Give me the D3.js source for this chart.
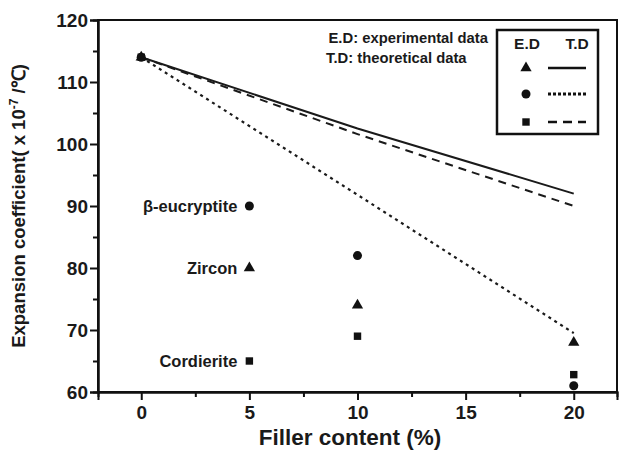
<!DOCTYPE html>
<html>
<head>
<meta charset="utf-8">
<script src="https://cdn.jsdelivr.net/npm/d3@7"></script>
<style>
  body { margin: 0; background: #fff; }
  text { font-family: "Liberation Sans", Arial, sans-serif; font-weight: bold; fill: #1a1a1a; }
</style>
</head>
<body>
<svg id="chart" width="621" height="450"></svg>
<script>
// Filler content (%) for each measured sample
const fillerX = [0, 5, 10, 20];

// Experimental data (E.D)
const zirconExp = [114, 80, 74, 68];
const eucryptiteExp = [114, 90, 82, 61];
const cordieriteExp = [114, 65, 69, 62.8];

// Theoretical data (T.D)
const theoryX = [0, 10, 20];
const zirconTheory = [114, 102.5, 92];
const eucryptiteTheory = [114, 91.8, 69.5];
const cordieriteTheory = [114, 101.6, 90];

const xTicks = [0, 5, 10, 15, 20];
const yTicks = [60, 70, 80, 90, 100, 110, 120];

const svg = d3.select("#chart");
const margin = { left: 98, right: 4, top: 20, bottom: 58 };
const width = 621, height = 450;

const x = d3.scaleLinear().domain([-2, 22]).range([margin.left, width - margin.right]);
const y = d3.scaleLinear().domain([60, 120]).range([height - margin.bottom, margin.top]);

// frame
svg.append("rect")
    .attr("x", x(-2)).attr("y", y(120))
    .attr("width", x(22) - x(-2)).attr("height", y(60) - y(120))
    .attr("fill", "none").attr("stroke", "#111").attr("stroke-width", 2);

// axes with minor ticks
const xAxis = svg.append("g").attr("transform", `translate(0,${y(60)})`)
    .call(d3.axisBottom(x).tickValues(xTicks).tickSize(8).tickPadding(3));
svg.append("g").attr("transform", `translate(0,${y(60)})`)
    .call(d3.axisBottom(x).tickValues([2.5, 7.5, 12.5, 17.5]).tickSize(5).tickFormat(""));
const yAxis = svg.append("g").attr("transform", `translate(${x(-2)},0)`)
    .call(d3.axisLeft(y).tickValues(yTicks).tickSize(8).tickPadding(2));
svg.append("g").attr("transform", `translate(${x(-2)},0)`)
    .call(d3.axisLeft(y).tickValues([65, 75, 85, 95, 105, 115]).tickSize(5).tickFormat(""));

svg.selectAll(".domain").attr("stroke", "#111").attr("stroke-width", 2);
svg.selectAll(".tick line").attr("stroke", "#111").attr("stroke-width", 2);
svg.selectAll(".tick text").style("font-size", "19px").attr("fill", "#1a1a1a");
xAxis.selectAll(".tick text").attr("dy", "0.85em");

// axis titles
svg.append("text")
    .attr("x", 350).attr("y", 445)
    .attr("text-anchor", "middle")
    .style("font-size", "22.5px")
    .text("Filler content (%)");

const yTitle = svg.append("text")
    .attr("transform", "translate(25,206) rotate(-90)")
    .attr("text-anchor", "middle")
    .style("font-size", "18.5px");
yTitle.append("tspan").text("Expansion coefficient( x 10");
yTitle.append("tspan").attr("dy", -7).style("font-size", "12px").text("-7");
yTitle.append("tspan").attr("dy", 7).text(" /℃)");

// theoretical lines
const line = d3.line().x((d, i) => x(theoryX[i])).y(d => y(d));
const theory = [
    { values: zirconTheory, dash: null, width: 2 },
    { values: cordieriteTheory, dash: "8,6", width: 2 },
    { values: eucryptiteTheory, dash: "3,4", width: 2.2 }
];
theory.forEach(t => {
    svg.append("path")
        .datum(t.values)
        .attr("d", line)
        .attr("fill", "none")
        .attr("stroke", "#1a1a1a")
        .attr("stroke-width", t.width)
        .attr("stroke-dasharray", t.dash);
});

// experimental points
const symbolOf = { tri: d3.symbolTriangle, circ: d3.symbolCircle, sq: d3.symbolSquare };
const sizeOf = { tri: 55, circ: 64, sq: 55 };
function drawPoints(values, kind) {
    svg.append("g").selectAll("path")
        .data(values)
        .join("path")
        .attr("transform", (d, i) => `translate(${x(fillerX[i])},${y(d)})`)
        .attr("d", d3.symbol(symbolOf[kind], sizeOf[kind]))
        .attr("fill", "#111");
}
drawPoints(zirconExp, "tri");
drawPoints(cordieriteExp, "sq");
drawPoints(eucryptiteExp, "circ");

// labels next to the 5% points
const labels = [
    { text: "β-eucryptite", v: eucryptiteExp[1] },
    { text: "Zircon", v: zirconExp[1] },
    { text: "Cordierite", v: cordieriteExp[1] }
];
labels.forEach(l => {
    svg.append("text")
        .attr("x", x(5) - 12).attr("y", y(l.v))
        .attr("dy", "0.35em")
        .attr("text-anchor", "end")
        .style("font-size", "16.5px")
        .text(l.text);
});

// annotation
svg.append("text").attr("x", 488).attr("y", 43).attr("text-anchor", "end")
    .style("font-size", "14.8px").text("E.D: experimental data");
svg.append("text").attr("x", 326).attr("y", 63)
    .style("font-size", "14.8px").text("T.D: theoretical data");

// legend
const lg = svg.append("g");
lg.append("rect").attr("x", 497).attr("y", 30).attr("width", 101).attr("height", 104)
    .attr("fill", "#fff").attr("stroke", "#111").attr("stroke-width", 2.5);
lg.append("text").attr("x", 527).attr("y", 49).attr("text-anchor", "middle")
    .style("font-size", "15.5px").text("E.D");
lg.append("text").attr("x", 577).attr("y", 49).attr("text-anchor", "middle")
    .style("font-size", "15.5px").text("T.D");
const legendRows = [
    { kind: "tri", dash: null, yy: 68 },
    { kind: "circ", dash: "3,2", yy: 94 },
    { kind: "sq", dash: "9,6", yy: 122 }
];
legendRows.forEach(r => {
    lg.append("path")
        .attr("transform", `translate(526,${r.yy})`)
        .attr("d", d3.symbol(symbolOf[r.kind], sizeOf[r.kind]))
        .attr("fill", "#111");
    lg.append("line")
        .attr("x1", 548).attr("x2", 586).attr("y1", r.yy).attr("y2", r.yy)
        .attr("stroke", "#111").attr("stroke-width", r.dash === "3,2" ? 3 : 2.5)
        .attr("stroke-dasharray", r.dash);
});
</script>
</body>
</html>
